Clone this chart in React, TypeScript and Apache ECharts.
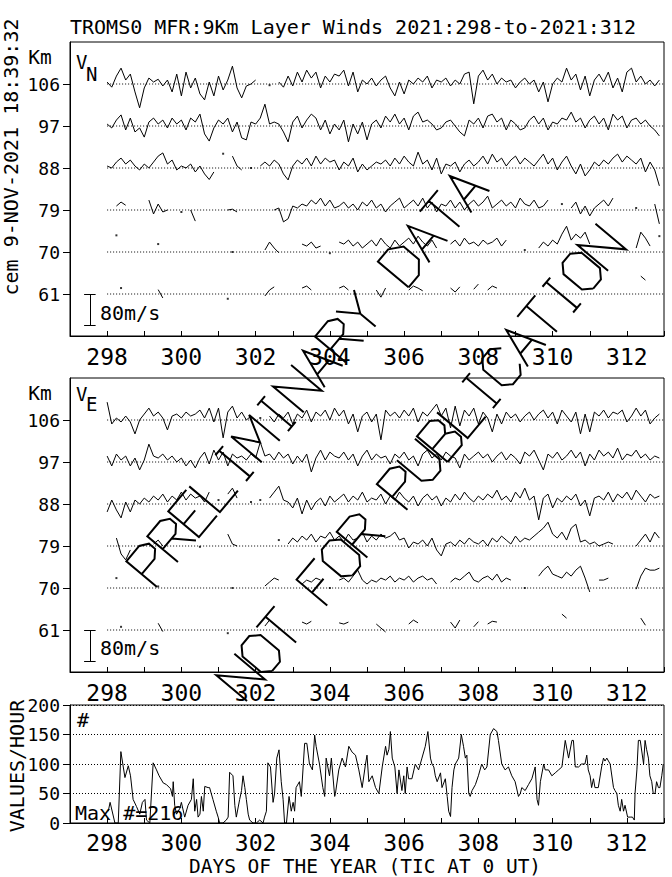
import React, { useEffect, useRef } from "react";
import * as echarts from "echarts";

const _ = null;
const FONT = '"DejaVu Sans Mono", monospace';

// ---- data ----
const startDay = 298;
const stepDays = 0.125;
const levels = [106, 97, 88, 79, 70, 61];
const kmPerMs = 0.085;
const scaleBarMs = 80;
const xLabelDays = [298, 300, 302, 304, 306, 308, 310, 312];

// Northward wind (m/s) per level, 3-hourly from day 298
const vn106 = [
  5, -8, 20, 40, 10, 25, -20, -60, -10, 15,
  5, 12, -5, 10, -20, 25, -30, 30, -10, 15,
  -25, -40, 5, -30, 20, -15, 10, 45, -10, -35,
  -5, 0, 10, _, _, -3, _, 5, -8, 20,
  -5, 30, 5, 35, 15, 30, -10, 20, 5, 25,
  20, 35, -5, 30, -20, 10, 0, 15, -5, 10,
  20, -10, -30, 5, -25, 10, 0, 15, 5, 20,
  -10, 10, 5, 15, -5, 10, 0, 25, 30, -50,
  20, 35, 10, 25, 0, 15, 5, 10, -10, 5,
  15, 0, 10, -20, 5, -45, 0, 15, 5, 40,
  10, 25, -15, 20, -30, 10, 25, 5, 30, -10,
  15, -20, 30, 40, 5, 20, 0, 10, -5, 10,
];
const vn97 = [
  5, -5, 15, 28, -10, 20, -15, -5, -28, 10,
  20, 5, 15, -5, 20, 5, 15, -10, 20, 10,
  30, -20, -38, -5, 15, 5, 20, -15, 10, -30,
  -35, 10, 5, 20, 55, 5, 10, 5, -15, -40,
  10, 25, -5, 15, 30, 20, -10, 15, -20, 5,
  -10, 15, -40, 5, -20, 10, -35, 5, 15, -5,
  25, 10, 30, 5, 20, -10, 25, 35, 10, 15,
  5, -10, -5, 10, 15, 0, -15, -25, 15, 5,
  20, -5, 25, 30, 10, 20, -10, 15, 5, -10,
  -5, 15, 25, 5, 20, -10, 10, 5, 20, 15,
  35, 10, 20, -5, 15, 25, 5, 20, -10, 30,
  15, 25, -5, 15, 20, 5, 15, 0, -10, -25,
];
const vn88 = [
  5, 0, 15, 25, 10, 20, 5, -5, 10, 0,
  15, 30, 38, 10, 20, -5, 5, 0, 10, -10,
  5, -15, -29, -10, _, 36, _, 30, 5, -5,
  _, 0, _, 5, 15, 5, 20, 10, -15, -30,
  5, 20, 10, 25, 5, 30, 10, 25, 15, 20,
  -5, 15, 5, 25, -10, 10, -5, 5, 15, 10,
  20, 5, 25, 10, 30, 15, 5, 40, 10, 20,
  -5, 25, -15, 10, 5, 15, -10, 10, 20, 5,
  15, 30, 10, 35, 15, 25, 5, 20, 30, 10,
  25, 15, 5, 20, 35, 10, 25, -5, 15, 30,
  5, -15, 10, -20, -5, 15, 5, 20, 10, 25,
  35, 15, 30, 20, 10, 25, -10, 15, -5, -45,
];
const vn79 = [
  _, _, 10, 20, 12, _, _, _, _, 25,
  -10, 15, -5, 0, _, _, -5, _, 0, -28,
  _, _, _, _, _, _, 0, 2, -5, _,
  _, _, _, _, _, _, 0, 5, -30, -22,
  10, 5, 15, 10, 25, 15, 30, 10, 25, 5,
  10, 20, 5, 15, 0, 20, 10, 25, 5, 15,
  -5, 10, 20, 30, 5, 15, 25, 10, 30, 5,
  20, -5, 15, 10, 25, 5, 20, 0, 15, 25,
  10, 20, 35, 5, 15, 25, 10, 20, 5, 30,
  15, 10, 25, 5, 10, 25, _, _, 15, _,
  5, 20, -10, 10, -15, 5, 15, 25, 10, 30,
  _, _, _, _, 5, _, _, _, 15, -35,
];
const vn70 = [
  _, _, 42, _, _, _, _, _, _, _,
  _, 20, _, _, _, _, _, _, _, _,
  _, _, _, _, _, _, _, 0, _, _,
  _, _, _, _, 5, 25, 10, -2, _, _,
  _, _, 20, 15, 25, 10, 15, _, -3, _,
  25, 20, 30, 15, 25, 10, 20, 30, 15, 35,
  20, 10, 30, 15, 25, 35, 20, 40, 25, 15,
  30, 10, _, _, 20, 30, 15, 35, 20, 25,
  15, 30, 20, 25, 35, 15, 30, _, _, _,
  5, _, _, 10, 25, 15, 30, 20, 45, 65,
  30, 45, 35, 50, 20, _, _, _, _, _,
  _, _, _, _, 10, 50, 35, 15, _, 40,
];
const vn61 = [
  _, _, _, 15, _, _, _, _, _, _,
  _, 11, -10, _, _, _, _, _, _, _,
  _, _, _, _, _, _, -12, _, _, _,
  _, _, _, _, -5, 10, 18, _, _, _,
  _, _, 15, 20, 10, _, _, _, _, _,
  15, 20, 10, _, _, _, _, _, 10, -8,
  15, _, _, _, _, 10, 20, 15, 8, _,
  _, _, _, _, 15, 5, 18, _, _, 12,
  25, _, 10, 20, 15, _, _, _, _, _,
  _, _, _, _, _, _, _, _, _, _,
  _, _, _, _, _, _, _, _, _, _,
  _, _, _, _, _, 45, 35, _, _, _,
];

// Eastward wind (m/s) per level
const ve106 = [
  45, -10, 5, -5, 10, -5, -35, 0, 15, 30,
  10, 20, 5, -25, 10, 15, 5, 20, 10, 15,
  25, 5, 30, -5, 30, -45, 20, 35, 5, 20,
  0, 10, _, 5, _, 10, -5, 15, 5, 20,
  -10, 15, 5, 25, -5, 20, 10, 25, 0, 30,
  10, 25, -10, 15, -30, 10, 20, -5, 15, -50,
  25, 10, 20, 5, 25, 10, 30, -5, 20, 10,
  25, 40, 10, 30, -20, 35, -15, 25, 10, 30,
  -10, 20, 5, -30, 15, -10, 20, 5, 15, -5,
  10, 20, 0, 15, 25, 5, 20, -10, 25, 10,
  -5, 20, -35, 15, -30, 20, 10, 25, 5, 20,
  15, 25, -5, 10, 30, 10, 25, -10, 5, 15,
];
const ve97 = [
  15, -10, 20, 5, 15, -10, 10, -20, 5, 45,
  15, 10, 20, 5, 15, 0, 10, -10, 5, -15,
  10, 25, -5, 30, 5, 25, -10, 20, 10, 15,
  5, 20, 10, 50, 15, 20, 5, 25, 10, 20,
  -5, 15, 0, 20, -25, 10, 30, 5, 25, 15,
  10, 25, 5, 20, -10, 15, 30, 5, 20, 10,
  15, -5, 20, 10, 25, 5, 15, -10, 20, 30,
  10, 20, 5, 25, 15, 10, -15, 20, 5, 15,
  25, 10, 20, 0, 15, 25, 5, 20, 10, -5,
  25, 15, 30, 5, -20, 20, 10, 25, 5, 15,
  30, 10, 25, -10, 20, 5, 30, 15, 25, 10,
  35, 5, 20, 15, 30, 10, 20, 5, 15, 10,
];
const ve88 = [
  -20, 10, -15, -35, 5, -20, 10, 0, 15, 5,
  20, 10, 25, 5, 20, 10, 30, 10, 25, 15,
  20, 5, 30, _, 10, _, 25, 40, 15, _,
  _, 5, _, 10, _, 15, 30, 45, 10, 5,
  -10, 15, -25, 10, -15, 5, 15, -5, 20, 5,
  15, 25, 5, 20, 10, 30, 5, 15, 10, 25,
  0, 20, 10, 30, 15, 5, 20, -5, 15, 25,
  10, 20, -5, 15, 5, 25, 10, 30, 15, 5,
  20, 10, 25, 15, 35, 10, 20, 5, 30, 15,
  40, 10, 20, -40, 15, 25, -10, 15, 5, 20,
  10, 25, -5, 10, -30, 15, 20, 10, 30, 5,
  25, 15, 30, 10, 35, 20, 5, 25, 15, 20,
];
const ve79 = [
  _, _, 20, -20, -35, -10, _, _, _, _,
  5, 15, 0, _, _, _, _, _, _, _,
  -2, _, _, _, _, _, 30, 5, 0, _,
  _, _, _, _, _, _, _, 15, _, 5,
  20, 10, 25, 15, 30, 10, 25, 20, 35, 15,
  25, 10, 30, 15, 20, 35, 10, 25, 15, 30,
  20, 25, 35, 15, 20, -5, 10, 5, 15, 0,
  20, -10, -25, 5, 10, 0, 15, 5, 20, 10,
  5, 15, 0, 20, 10, 25, 15, 5, 25, 10,
  20, 15, 25, 35, 45, 60, 30, 20, 35, 15,
  45, 55, 10, 15, 5, 10, 0, 5, 10, 5,
  _, _, _, _, 0, 15, 30, 10, 35, 20,
];
const ve70 = [
  _, _, 25, _, _, _, _, _, _, _,
  _, 4, _, _, _, _, _, _, _, _,
  _, _, _, _, _, _, _, 0, _, _,
  _, _, _, _, 5, 15, 25, 20, _, _,
  _, _, 10, 20, 15, 25, 20, _, 0, _,
  20, 25, 15, 30, 45, 20, 10, 20, 15, 25,
  20, 30, 15, 25, 20, 30, 15, 25, 30, 20,
  25, 10, _, _, 15, 25, 20, 30, 40, 20,
  15, 25, 30, 20, 35, 15, 25, 20, _, _,
  0, _, _, 30, 45, 55, 35, 30, 25, 40,
  30, 45, 55, 25, -10, _, 20, 20, 25, _,
  _, _, _, _, -3, 30, 50, 45, 45, 50,
];
const ve61 = [
  _, _, _, 8, _, _, _, _, _, _,
  _, 17, -4, _, _, _, _, _, _, _,
  _, _, _, _, _, _, -8, _, _, _,
  _, _, _, _, 10, 25, 15, _, _, _,
  _, _, 20, 15, 22, _, _, _, _, _,
  18, 15, 20, _, _, _, _, _, 15, 5,
  -5, _, _, _, _, 15, 25, 18, _, _,
  _, _, _, _, 20, 5, 25, _, _, 8,
  21, _, 15, 22, 20, _, _, _, _, _,
  _, _, _, _, _, _, _, _, 40, 30,
  _, _, _, _, _, _, _, _, _, _,
  _, _, _, _, _, 30, 12, _, _, _,
];

const vnTraces = [vn106, vn97, vn88, vn79, vn70, vn61];
const veTraces = [ve106, ve97, ve88, ve79, ve70, ve61];

// values per hour: [day, count]
const countsPerHour: [number, number][] = [
  [298.03, 20], [298.08, 35], [298.21, 0], [298.30, 0], [298.37, 121], [298.48, 77],
  [298.57, 97], [298.63, 80], [298.70, 40], [298.79, 28], [298.88, 15], [298.95, 35],
  [299.02, 40], [299.06, 5], [299.15, 0], [299.24, 102], [299.33, 90], [299.40, 80],
  [299.51, 68], [299.60, 65], [299.71, 58], [299.76, 45], [299.78, 70], [299.82, 30],
  [299.87, 15], [299.96, 25], [300.00, 35], [300.09, 10], [300.18, 30], [300.27, 40],
  [300.32, 75], [300.36, 20], [300.41, 40], [300.45, 10], [300.50, 15], [300.54, 45],
  [300.59, 20], [300.63, 62], [300.72, 60], [300.76, 60], [300.85, 40], [300.94, 20],
  [300.99, 10], [301.03, 0], [301.12, 0], [301.21, 5], [301.26, 10], [301.30, 86],
  [301.39, 80], [301.44, 30], [301.48, 10], [301.57, 40], [301.62, 55], [301.66, 80],
  [301.71, 60], [301.75, 40], [301.80, 15], [301.84, 5], [301.93, 0], [302.02, 0],
  [302.11, 5], [302.20, 0], [302.24, 10], [302.29, 20], [302.33, 102], [302.40, 95],
  [302.47, 35], [302.51, 50], [302.57, 110], [302.63, 124], [302.69, 70], [302.74, 40],
  [302.78, 0], [302.83, 0], [302.90, 45], [302.96, 20], [303.01, 35], [303.05, 20],
  [303.09, 60], [303.18, 70], [303.23, 45], [303.32, 135], [303.38, 135], [303.45, 100],
  [303.53, 90], [303.59, 149], [303.63, 130], [303.72, 100], [303.81, 60], [303.86, 45],
  [303.90, 110], [303.99, 80], [304.04, 110], [304.13, 45], [304.15, 50], [304.24, 90],
  [304.33, 110], [304.42, 95], [304.51, 130], [304.60, 120], [304.69, 115], [304.78, 90],
  [304.87, 60], [304.96, 100], [305.00, 115], [305.05, 70], [305.14, 80], [305.23, 60],
  [305.32, 50], [305.41, 95], [305.50, 130], [305.54, 115], [305.59, 125], [305.63, 155],
  [305.68, 110], [305.75, 95], [305.81, 50], [305.86, 90], [305.94, 55], [305.99, 80],
  [306.03, 50], [306.08, 95], [306.12, 75], [306.21, 75], [306.30, 100], [306.39, 90],
  [306.48, 110], [306.57, 130], [306.64, 155], [306.71, 110], [306.75, 100], [306.80, 95],
  [306.84, 80], [306.89, 70], [306.98, 85], [307.02, 60], [307.11, 75], [307.16, 45],
  [307.20, 20], [307.25, 11], [307.29, 60], [307.34, 90], [307.38, 100], [307.47, 110],
  [307.54, 150], [307.60, 130], [307.65, 110], [307.69, 115], [307.74, 50], [307.78, 45],
  [307.83, 55], [307.92, 65], [308.00, 80], [308.09, 100], [308.17, 90], [308.23, 95],
  [308.32, 150], [308.41, 160], [308.50, 155], [308.54, 140], [308.63, 100], [308.72, 90],
  [308.81, 95], [308.90, 80], [308.99, 70], [309.08, 45], [309.13, 50], [309.17, 60],
  [309.26, 55], [309.35, 65], [309.44, 75], [309.53, 95], [309.58, 40], [309.62, 30],
  [309.67, 70], [309.76, 100], [309.80, 90], [309.89, 90], [309.98, 80], [310.07, 85],
  [310.16, 90], [310.25, 95], [310.34, 140], [310.43, 110], [310.52, 140], [310.56, 140],
  [310.61, 95], [310.70, 95], [310.78, 100], [310.87, 100], [310.92, 115], [310.96, 90],
  [311.01, 80], [311.05, 60], [311.10, 75], [311.14, 60], [311.23, 60], [311.32, 95],
  [311.37, 110], [311.41, 105], [311.46, 110], [311.55, 100], [311.64, 60], [311.68, 55],
  [311.73, 50], [311.77, 30], [311.82, 20], [311.86, 40], [311.91, 20], [311.95, 30],
  [312.02, 10], [312.09, 10], [312.15, 10], [312.20, 5], [312.22, 50], [312.27, 90],
  [312.31, 140], [312.36, 140], [312.45, 100], [312.49, 140], [312.53, 125], [312.58, 110],
  [312.62, 80], [312.67, 70], [312.71, 50], [312.76, 50], [312.80, 70], [312.85, 60],
  [312.89, 60], [312.94, 80], [312.98, 100],
];

// ---- watermark stroke glyphs (unit cap height) ----
const GLYPHS: Record<string, number[][][]> = {
  P: [[[0, 0], [0, 1], [0.5, 1], [0.7, 0.85], [0.7, 0.65], [0.5, 0.5], [0, 0.5]]],
  R: [[[0, 0], [0, 1], [0.5, 1], [0.7, 0.85], [0.7, 0.65], [0.5, 0.5], [0, 0.5]], [[0.35, 0.5], [0.7, 0]]],
  E: [[[0.7, 1], [0, 1], [0, 0], [0.7, 0]], [[0, 0.5], [0.45, 0.5]]],
  L: [[[0, 1], [0, 0], [0.7, 0]]],
  I: [[[0.35, 0], [0.35, 1]], [[0.2, 1], [0.5, 1]], [[0.2, 0], [0.5, 0]]],
  M: [[[0, 0], [0, 1], [0.35, 0.35], [0.7, 1], [0.7, 0]]],
  N: [[[0, 0], [0, 1], [0.7, 0], [0.7, 1]]],
  A: [[[0, 0], [0.35, 1], [0.7, 0]], [[0.12, 0.35], [0.58, 0.35]]],
  Y: [[[0, 1], [0.35, 0.5], [0.7, 1]], [[0.35, 0.5], [0.35, 0]]],
  D: [[[0, 0], [0, 1], [0.4, 1], [0.7, 0.75], [0.7, 0.25], [0.4, 0], [0, 0]]],
  T: [[[0, 1], [0.7, 1]], [[0.35, 1], [0.35, 0]]],
  O: [[[0.2, 0], [0.5, 0], [0.7, 0.2], [0.7, 0.8], [0.5, 1], [0.2, 1], [0, 0.8], [0, 0.2], [0.2, 0]]],
  F: [[[0.7, 1], [0, 1], [0, 0]], [[0, 0.5], [0.45, 0.5]]],
  U: [[[0, 1], [0, 0.2], [0.2, 0], [0.5, 0], [0.7, 0.2], [0.7, 1]]],
  B: [[[0, 0], [0, 1], [0.5, 1], [0.65, 0.85], [0.65, 0.65], [0.5, 0.5], [0, 0.5]], [[0.5, 0.5], [0.7, 0.35], [0.7, 0.15], [0.55, 0], [0, 0]]],
  C: [[[0.7, 0.8], [0.5, 1], [0.2, 1], [0, 0.8], [0, 0.2], [0.2, 0], [0.5, 0], [0.7, 0.2]]],
};

function glyphPath(text: string, h: number, adv: number): string {
  const parts: string[] = [];
  Array.from(text).forEach((ch, i) => {
    (GLYPHS[ch] || []).forEach((stroke) => {
      stroke.forEach((p, j) => {
        const x = i * adv + p[0] * h;
        const y = -p[1] * h;
        parts.push((j === 0 ? "M" : "L") + x.toFixed(1) + " " + y.toFixed(1));
      });
    });
  });
  return parts.join(" ");
}

let shapesDone = false;
function registerShapes() {
  if (shapesDone) return;
  echarts.graphic.registerShape("wmPrelim", echarts.graphic.extendPath(glyphPath("PRELIMINARY DATA", 40, 32.6), {}) as any);
  echarts.graphic.registerShape("wmNotPub", echarts.graphic.extendPath(glyphPath("NOT FOR PUBLICATION", 40, 31.2), {}) as any);
  shapesDone = true;
}

function traceData(vals: (number | null)[], level: number) {
  return vals.map((v, i) => [startDay + i * stepDays, v == null ? "-" : level + v * kmPerMs]);
}
function isolatedPoints(vals: (number | null)[], level: number) {
  const out: number[][] = [];
  vals.forEach((v, i) => {
    if (v != null && vals[i - 1] == null && vals[i + 1] == null) out.push([startDay + i * stepDays, level + v * kmPerMs]);
  });
  return out;
}

function buildOption() {
  const series: any[] = [];
  [vnTraces, veTraces].forEach((traces, p) => {
    levels.forEach((lv) => {
      series.push({
        type: "line", xAxisIndex: p, yAxisIndex: p, data: [[298, lv], [313, lv]],
        showSymbol: false, silent: true, lineStyle: { color: "#000", width: 1, type: [1, 2] },
      });
    });
    traces.forEach((vals, k) => {
      series.push({
        type: "line", xAxisIndex: p, yAxisIndex: p, data: traceData(vals, levels[k]),
        showSymbol: false, silent: true, connectNulls: false, lineStyle: { color: "#000", width: 1 },
      });
      const iso = isolatedPoints(vals, levels[k]);
      if (iso.length) {
        series.push({
          type: "scatter", xAxisIndex: p, yAxisIndex: p, data: iso, symbol: "rect", symbolSize: 2,
          silent: true, itemStyle: { color: "#000" },
        });
      }
    });
    const barX = 297.54, capL = 297.38, capR = 297.69;
    const top = 61, bot = 61 - scaleBarMs * kmPerMs;
    series.push({
      type: "lines", coordinateSystem: "cartesian2d", xAxisIndex: p, yAxisIndex: p, silent: true,
      data: [
        { coords: [[barX, top], [barX, bot]] },
        { coords: [[capL, top], [capR, top]] },
        { coords: [[capL, bot], [capR, bot]] },
      ],
      lineStyle: { color: "#000", width: 1, opacity: 1 },
    });
  });
  series.push({
    type: "line", xAxisIndex: 2, yAxisIndex: 2, data: countsPerHour, showSymbol: false, silent: true,
    lineStyle: { color: "#000", width: 1 },
  });

  const gridBase = { left: 70, width: 594, show: true, borderColor: "#000", borderWidth: 1, backgroundColor: "transparent" };
  const xAxis = [0, 1, 2].map((g) => ({
    type: "value", gridIndex: g, min: 297, max: 313, interval: 1,
    axisLine: { show: true, onZero: false, lineStyle: { color: "#000", width: 1 } },
    axisTick: { show: true, inside: true, length: 5, lineStyle: { color: "#000" } },
    axisLabel: {
      formatter: (v: number) => (xLabelDays.indexOf(v) >= 0 ? String(v) : ""),
      color: "#000", fontFamily: FONT, fontSize: 23, margin: g === 2 ? 11 : 12, lineHeight: 18,
    },
    splitLine: { show: false },
  }));
  const windY = (g: number) => ({
    type: "value", gridIndex: g, min: 52, max: 115, interval: 9,
    axisLine: { show: true, onZero: false, lineStyle: { color: "#000", width: 1 } },
    axisTick: { show: true, inside: false, length: 7, customValues: levels, lineStyle: { color: "#000" } },
    axisLabel: {
      customValues: levels,
      formatter: (v: number) => (levels.indexOf(v) >= 0 ? String(v) : ""),
      color: "#000", fontFamily: FONT, fontSize: 18, margin: 10,
    },
    splitLine: { show: false },
  });
  const yAxis = [
    windY(0),
    windY(1),
    {
      type: "value", gridIndex: 2, min: 0, max: 200, interval: 50,
      axisLine: { show: true, onZero: false, lineStyle: { color: "#000", width: 1 } },
      axisTick: { show: true, inside: false, length: 7, lineStyle: { color: "#000" } },
      axisLabel: { color: "#000", fontFamily: FONT, fontSize: 18, margin: 10 },
      splitLine: { show: true, lineStyle: { color: "#000", width: 1, type: [1, 2] } },
    },
  ];

  const txt = (x: number, y: number, text: string, size: number, align = "left", rot = 0) => ({
    type: "text", x, y, rotation: rot, z: 50,
    style: {
      text, font: `${size}px ${FONT}`, fill: "#000",
      textAlign: align, textVerticalAlign: "middle", align, verticalAlign: "middle",
    },
  });
  const deg = Math.PI / 180;
  const graphic = [
    txt(70, 27, "TROMS0 MFR:9Km Layer Winds 2021:298-to-2021:312", 20),
    txt(11, 157, "cem 9-NOV-2021 18:39:32", 20, "center", Math.PI / 2),
    txt(40, 57, "Km", 19.5, "center"),
    txt(40, 393, "Km", 19.5, "center"),
    txt(76, 61.5, "V", 19),
    txt(86, 73.5, "N", 19),
    txt(76, 393.5, "V", 19),
    txt(86, 403.5, "E", 19),
    txt(100, 313, "80m/s", 20),
    txt(100, 648, "80m/s", 20),
    txt(77, 720, "#", 20),
    txt(75, 813, "Max #=216", 20),
    txt(17, 766, "VALUES/HOUR", 20, "center", Math.PI / 2),
    txt(365, 866, "DAYS OF THE YEAR (TIC AT 0 UT)", 19.5, "center"),
    {
      type: "wmPrelim", x: 157, y: 587, rotation: 50 * deg, z: 100, silent: true,
      style: { stroke: "#000", fill: "none", lineWidth: 2 },
    },
    {
      type: "wmNotPub", x: 247, y: 701, rotation: 50 * deg, z: 100, silent: true,
      style: { stroke: "#000", fill: "none", lineWidth: 2 },
    },
  ];

  return {
    animation: false,
    backgroundColor: "#fff",
    grid: [
      { ...gridBase, top: 42, height: 294 },
      { ...gridBase, top: 378, height: 294 },
      { ...gridBase, top: 705, height: 118 },
    ],
    xAxis,
    yAxis,
    series,
    graphic,
  };
}

export default function App() {
  const ref = useRef<HTMLDivElement>(null);
  useEffect(() => {
    if (!ref.current) return;
    registerShapes();
    const chart = echarts.init(ref.current, undefined, { renderer: "svg" });
    chart.setOption(buildOption() as any);
    return () => chart.dispose();
  }, []);
  return (
    <div
      ref={ref}
      style={{ position: "fixed", left: 0, top: 0, width: 672, height: 877, background: "#fff" }}
    />
  );
}
